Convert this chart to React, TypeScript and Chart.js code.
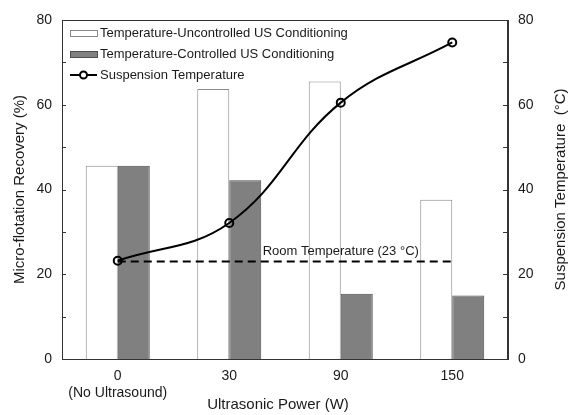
import React, { useEffect, useRef } from 'react';
import { Chart, registerables } from 'chart.js';

Chart.register(...registerables);

const categories = ['0', '30', '90', '150'];
const tickLabels: (string | string[])[] = [['0', '(No Ultrasound)'], '30', '90', '150'];
const uncontrolled = [45.6, 63.7, 65.5, 37.6];
const controlled = [45.6, 42.2, 15.4, 15.0];
const suspensionTemp = [23.2, 32.1, 60.5, 74.7];
const roomTemp = [23, 23, 23, 23];
const minorTicks = [10, 20, 30, 40, 50, 60, 70];

const FONT = "'Liberation Sans', Arial, sans-serif";
const TEXT = '#1a1a1a';

const decorPlugin = {
  id: 'decor',
  afterDatasetsDraw(chart: any) {
    const { ctx, chartArea: a, scales } = chart;
    ctx.save();
    // frame
    ctx.strokeStyle = '#333';
    ctx.lineWidth = 1;
    ctx.strokeRect(Math.round(a.left) + 0.5, Math.round(a.top) + 0.5, Math.round(a.right - a.left) - 1, Math.round(a.bottom - a.top));
    // inward ticks
    ctx.beginPath();
    for (const v of minorTicks) {
      const yl = Math.round(scales.y.getPixelForValue(v)) + 0.5;
      ctx.moveTo(a.left, yl);
      ctx.lineTo(a.left + 4, yl);
      const yr = Math.round(scales.y1.getPixelForValue(v)) + 0.5;
      ctx.moveTo(a.right - 1, yr);
      ctx.lineTo(a.right - 5, yr);
    }
    ctx.stroke();

    // room temperature label
    ctx.fillStyle = TEXT;
    ctx.font = `13px ${FONT}`;
    ctx.textAlign = 'center';
    ctx.textBaseline = 'middle';
    ctx.fillText('Room Temperature (23 \u00B0C)', scales.x.getPixelForValue(2), scales.y1.getPixelForValue(roomTemp[2]) - 10);

    // axis titles
    ctx.font = `15px ${FONT}`;
    const midY = (a.top + a.bottom) / 2;
    ctx.save();
    ctx.translate(20, midY);
    ctx.rotate(-Math.PI / 2);
    ctx.fillText('Micro-flotation Recovery (%)', 0, 0);
    ctx.restore();
    ctx.save();
    ctx.translate(561, midY);
    ctx.rotate(-Math.PI / 2);
    ctx.fillText('Suspension Temperature  (\u00B0C)', 0, 0);
    ctx.restore();
    ctx.fillText('Ultrasonic Power (W)', (a.left + a.right) / 2 - 7, 405);

    // legend
    const lx = a.left + 8;
    const rows = [a.top + 13, a.top + 34, a.top + 55];
    ctx.textAlign = 'left';
    ctx.font = `13px ${FONT}`;
    ctx.fillStyle = '#fff';
    ctx.fillRect(lx, rows[0] - 3, 27, 6);
    ctx.strokeStyle = '#888';
    ctx.strokeRect(lx + 0.5, rows[0] - 3 + 0.5, 27, 6);
    ctx.fillStyle = '#808080';
    ctx.fillRect(lx, rows[1] - 3, 27, 6);
    ctx.strokeStyle = '#505050';
    ctx.strokeRect(lx + 0.5, rows[1] - 3 + 0.5, 27, 6);
    ctx.strokeStyle = '#000';
    ctx.lineWidth = 2;
    ctx.beginPath();
    ctx.moveTo(lx, rows[2]);
    ctx.lineTo(lx + 27, rows[2]);
    ctx.stroke();
    ctx.beginPath();
    ctx.arc(lx + 13.5, rows[2], 3.5, 0, Math.PI * 2);
    ctx.fillStyle = '#fff';
    ctx.fill();
    ctx.stroke();
    ctx.fillStyle = TEXT;
    ctx.fillText('Temperature-Uncontrolled US Conditioning', lx + 30, rows[0]);
    ctx.fillText('Temperature-Controlled US Conditioning', lx + 30, rows[1]);
    ctx.fillText('Suspension Temperature', lx + 30, rows[2]);
    ctx.restore();
  },
};

export default function App() {
  const ref = useRef<HTMLCanvasElement | null>(null);

  useEffect(() => {
    if (!ref.current) return;
    const axisCommon = {
      min: 0,
      max: 80,
      grid: { display: false, drawTicks: false },
      border: { display: true, color: '#333', width: 1 },
      ticks: { stepSize: 20, color: TEXT, font: { family: FONT, size: 14 }, padding: 10 },
    };
    const chart = new Chart(ref.current, {
      type: 'bar',
      data: {
        labels: tickLabels as any,
        datasets: [
          {
            type: 'line',
            label: 'Suspension Temperature',
            data: suspensionTemp,
            yAxisID: 'y1',
            borderColor: '#000',
            borderWidth: 2,
            tension: 0.4,
            pointRadius: 4,
            pointBorderWidth: 2,
            pointBorderColor: '#000',
            pointBackgroundColor: 'rgba(0,0,0,0)',
            fill: false,
          } as any,
          {
            type: 'line',
            label: 'Room Temperature',
            data: roomTemp,
            yAxisID: 'y1',
            borderColor: '#000',
            borderWidth: 2,
            borderDash: [8, 5],
            pointRadius: 0,
            tension: 0,
            fill: false,
          } as any,
          {
            type: 'bar',
            label: 'Temperature-Uncontrolled US Conditioning',
            data: uncontrolled,
            yAxisID: 'y',
            backgroundColor: '#ffffff',
            borderColor: '#8c8c8c',
            borderWidth: 1,
            barPercentage: 1,
            categoryPercentage: 0.574,
          },
          {
            type: 'bar',
            label: 'Temperature-Controlled US Conditioning',
            data: controlled,
            yAxisID: 'y',
            backgroundColor: '#808080',
            borderColor: '#4d4d4d',
            borderWidth: 1,
            barPercentage: 1,
            categoryPercentage: 0.574,
          },
        ],
      },
      options: {
        animation: false,
        responsive: true,
        maintainAspectRatio: false,
        layout: { padding: { top: 20, left: 0, right: 0, bottom: 0 } },
        plugins: { legend: { display: false }, tooltip: { enabled: false } },
        scales: {
          x: {
            grid: { display: false, drawTicks: false },
            border: { display: true, color: '#333', width: 1 },
            ticks: { color: TEXT, font: { family: FONT, size: 14 }, padding: 9, maxRotation: 0, autoSkip: false },
            afterFit: (s: any) => { s.height = 56; },
          },
          y: { ...axisCommon, position: 'left', afterFit: (s: any) => { s.width = 62; } } as any,
          y1: { ...axisCommon, position: 'right', afterFit: (s: any) => { s.width = 63; } } as any,
        },
      },
      plugins: [decorPlugin],
    });
    return () => chart.destroy();
  }, []);

  return (
    <div style={{ position: 'fixed', left: 0, top: 0, width: 571, height: 415, background: '#fff' }}>
      <canvas ref={ref} data-categories={categories.join(',')} />
    </div>
  );
}
